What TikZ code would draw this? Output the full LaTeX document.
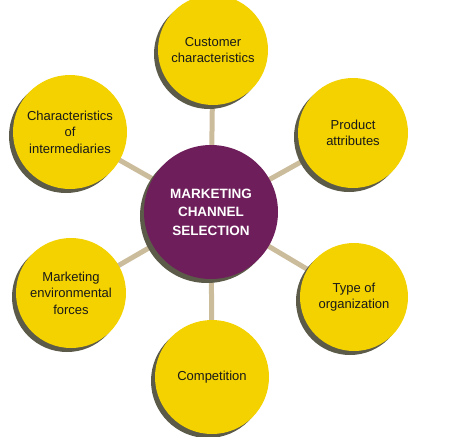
\documentclass[tikz,border=0pt]{standalone}
\usepackage{fontspec}
\setmainfont{Liberation Sans}
\definecolor{ylw}{HTML}{F3D200}
\definecolor{purp}{HTML}{6E1E5A}
\definecolor{shad}{HTML}{5C5A48}
\definecolor{spoke}{HTML}{CBBC9C}
\begin{document}
\begin{tikzpicture}[x=1pt,y=-1pt,
  outer/.style={circle,fill=ylw,minimum size=110pt,inner sep=0pt,align=center,font=\fontsize{13}{16.5}\selectfont,text=black!90},
  hub/.style={circle,fill=purp,minimum size=134pt,inner sep=0pt,align=center,font=\fontsize{13.5}{18.5}\selectfont\bfseries,text=white},
  shadowc/.style={fill=shad},
  spokeline/.style={draw=spoke,line width=5pt}]
\useasboundingbox (0,0) rectangle (454,436);
\coordinate (pc) at (211,212);
\coordinate (p1) at (213,50);
\coordinate (p2) at (353,133);
\coordinate (p3) at (354,297);
\coordinate (p4) at (212,377);
\coordinate (p5) at (71,293);
\coordinate (p6) at (70,132);
% spokes
\foreach \i in {1,...,6} \draw[spokeline] (pc) -- (p\i);
% shadows
\foreach \i/\r in {1/55,2/55,3/54,4/57,5/55,6/57}
  \fill[shadowc] ([shift={(-4,4)}]p\i) circle (\r);
\fill[shadowc] ([shift={(-4,4)}]pc) circle (67);
% nodes
\node[hub] (c) at (pc) {MARKETING\\CHANNEL\\SELECTION};
\node[outer,minimum size=110pt] (n1) at (p1) {Customer\\characteristics};
\node[outer,minimum size=110pt] (n2) at (p2) {Product\\attributes};
\node[outer,minimum size=108pt] (n3) at (p3) {Type of\\organization};
\node[outer,minimum size=114pt] (n4) at (p4) {Competition};
\node[outer,minimum size=110pt] (n5) at (p5) {Marketing\\environmental\\forces};
\node[outer,minimum size=114pt] (n6) at (p6) {Characteristics\\of\\intermediaries};
\end{tikzpicture}
\end{document}
